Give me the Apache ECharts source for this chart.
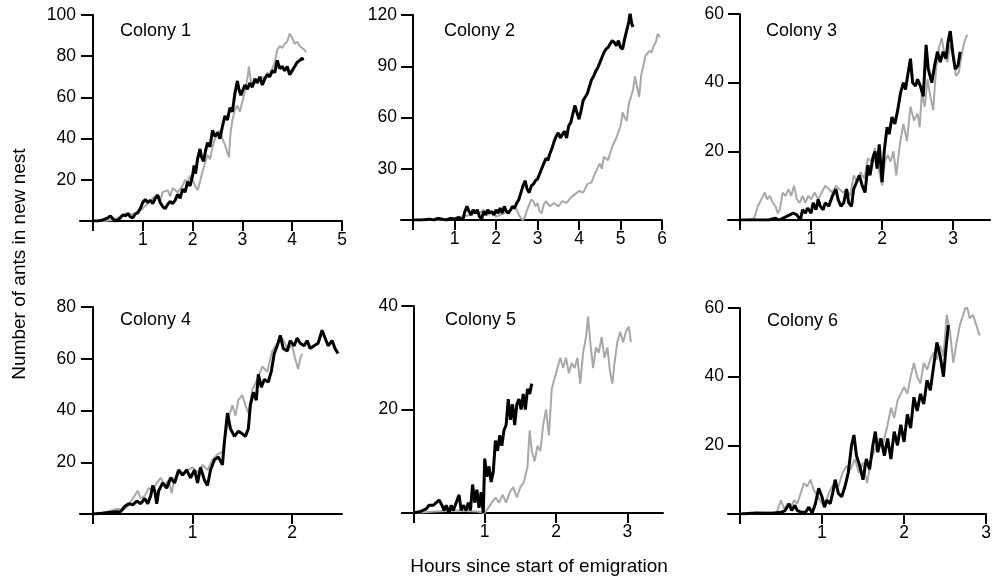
<!DOCTYPE html>
<html><head><meta charset="utf-8">
<script src="https://cdn.jsdelivr.net/npm/echarts@6/dist/echarts.min.js"></script>
<style>html,body{margin:0;padding:0;background:#fff}#c{width:994px;height:578px}</style>
</head><body><div id="c"></div>
<script>
// Colony titles
const colonyNames = ['Colony 1','Colony 2','Colony 3','Colony 4','Colony 5','Colony 6'];
const yAxisTitle = 'Number of ants in new nest';
const xAxisTitle = 'Hours since start of emigration';
// axis ranges / ticks
const yMaxes = [100, 120, 60, 80, 40, 60];
const yIntervals = [20, 30, 20, 20, 20, 20];
const xTicks = [[0,1,2,3,4,5],[0,1,2,3,4,5,6],[0,1,2,3],[0,1,2],[0,1,2,3],[0,1,2,3]];
const xLabels = [[1,2,3,4,5],[1,2,3,4,5,6],[1,2,3],[1,2],[1,2,3],[1,2,3]];

// [hours, ants]
const c1Black = [[0,0],[0.1,0],[0.2,0.5],[0.3,1.5],[0.35,2.5],[0.4,1],[0.45,0],[0.5,0.5],[0.55,1.5],[0.6,3],[0.65,2.5],[0.7,3.5],[0.75,2],[0.8,1.5],[0.85,3.5],[0.9,4],[0.95,6],[1.0,9],[1.05,10.5],[1.1,9],[1.15,10],[1.2,8.5],[1.25,11],[1.3,12.5],[1.35,9],[1.4,7],[1.45,6],[1.5,8],[1.55,9.5],[1.6,8.5],[1.65,10],[1.7,13],[1.75,11],[1.8,15.5],[1.85,14],[1.9,19],[1.95,17],[2.0,22],[2.03,27],[2.06,23],[2.1,30],[2.15,35],[2.18,31],[2.22,29],[2.26,34],[2.3,38],[2.35,36],[2.4,44],[2.45,41],[2.5,43],[2.55,40],[2.6,46],[2.65,51],[2.7,49],[2.75,55],[2.8,53],[2.85,62],[2.9,68],[2.93,64],[2.97,61],[3.0,63],[3.05,66],[3.1,64],[3.15,67],[3.2,65],[3.25,69],[3.3,67],[3.35,70],[3.4,66],[3.45,69],[3.5,71],[3.55,70],[3.6,73],[3.65,72],[3.7,78],[3.75,74],[3.8,75],[3.85,73],[3.9,75],[3.95,71],[4.0,73],[4.05,75],[4.1,77],[4.15,78],[4.2,79],[4.22,78]];
const c1Grey = [[0,0],[0.2,0],[0.4,0.5],[0.5,1.5],[0.6,3],[0.7,4],[0.8,3],[0.9,4.5],[1.0,6],[1.1,8.5],[1.2,11],[1.3,13],[1.35,10],[1.4,14],[1.5,15],[1.55,12],[1.6,16],[1.7,14],[1.8,17],[1.85,20],[1.9,19],[1.95,22],[2.0,20],[2.05,17],[2.1,15],[2.15,19],[2.2,24],[2.25,28],[2.3,32],[2.35,30],[2.4,36],[2.45,40],[2.5,42],[2.55,44],[2.6,40],[2.65,37],[2.7,33],[2.73,31],[2.76,42],[2.8,49],[2.85,54],[2.9,56],[2.95,53],[3.0,58],[3.05,63],[3.1,69],[3.13,75],[3.17,68],[3.2,65],[3.25,67],[3.3,69],[3.35,68],[3.4,70],[3.45,69],[3.5,72],[3.55,71],[3.6,74],[3.65,77],[3.7,83],[3.75,85],[3.8,84],[3.85,86],[3.9,87],[3.95,91],[4.0,89],[4.05,86],[4.1,87],[4.15,85],[4.2,84],[4.25,83],[4.28,82]];
const c2Black = [[0,0],[0.2,0],[0.4,0.5],[0.5,0],[0.6,1],[0.7,0.5],[0.8,0],[0.9,1],[1.0,0.5],[1.1,1.5],[1.2,0],[1.25,5],[1.3,8],[1.35,5],[1.4,3],[1.45,6],[1.5,4],[1.55,6],[1.6,2],[1.65,0],[1.7,5],[1.75,3],[1.8,6],[1.85,4],[1.9,5],[1.95,3],[2.0,6],[2.05,4],[2.1,7],[2.15,4],[2.2,8],[2.25,5],[2.3,4],[2.35,6],[2.4,8],[2.45,7],[2.5,10],[2.55,12],[2.6,16],[2.65,20],[2.7,23],[2.75,18],[2.8,16],[2.85,20],[2.9,21],[2.95,23],[3.0,24],[3.05,27],[3.1,30],[3.15,33],[3.2,36],[3.25,35],[3.3,39],[3.35,42],[3.4,46],[3.45,49],[3.5,51],[3.55,48],[3.6,50],[3.65,52],[3.7,48],[3.75,55],[3.8,57],[3.85,62],[3.9,67],[3.95,63],[4.0,59],[4.05,64],[4.1,70],[4.15,72],[4.2,74],[4.25,78],[4.3,82],[4.35,84],[4.4,87],[4.45,89],[4.5,92],[4.55,95],[4.6,98],[4.65,100],[4.7,101],[4.75,103],[4.8,105],[4.85,104],[4.9,102],[4.95,105],[5.0,101],[5.05,100],[5.1,106],[5.15,111],[5.2,116],[5.23,121],[5.27,115],[5.3,113]];
const c2Grey = [[0,0],[0.4,0],[0.8,0.5],[1.0,1],[1.2,2],[1.4,3],[1.5,5],[1.6,4],[1.7,6],[1.8,3],[1.9,5],[2.0,2],[2.1,3],[2.2,4],[2.3,5],[2.4,7],[2.5,6],[2.55,3],[2.6,1],[2.65,0],[2.7,2],[2.75,6],[2.8,9],[2.85,12],[2.9,11],[2.95,8],[3.0,10],[3.05,5],[3.1,4],[3.15,9],[3.2,11],[3.3,8],[3.4,10],[3.5,8],[3.6,11],[3.7,10],[3.8,13],[3.9,15],[4.0,17],[4.1,16],[4.2,21],[4.3,22],[4.4,28],[4.5,33],[4.55,30],[4.6,37],[4.7,35],[4.8,43],[4.9,48],[5.0,55],[5.05,63],[5.1,60],[5.15,58],[5.2,68],[5.3,76],[5.35,84],[5.4,78],[5.45,72],[5.5,85],[5.55,90],[5.6,96],[5.7,99],[5.75,98],[5.8,102],[5.85,104],[5.9,109],[5.95,107]];
const c3Black = [[0,0],[0.2,0],[0.4,0],[0.5,0.5],[0.55,0],[0.6,0.5],[0.65,1],[0.7,1.5],[0.75,2],[0.8,1.5],[0.85,0],[0.88,3],[0.92,2],[0.95,3.5],[1.0,2],[1.03,5],[1.07,3],[1.1,6],[1.13,4],[1.17,3],[1.2,5],[1.25,4],[1.3,7],[1.35,9],[1.38,6],[1.42,4],[1.46,5],[1.5,9],[1.53,5],[1.57,4],[1.6,9],[1.64,11],[1.68,13],[1.72,10],[1.76,8],[1.8,16],[1.83,13],[1.87,18],[1.9,20],[1.93,15],[1.96,22],[2.0,11],[2.03,20],[2.07,27],[2.1,25],[2.14,30],[2.18,28],[2.22,32],[2.26,37],[2.3,40],[2.33,38],[2.36,42],[2.4,47],[2.43,40],[2.47,39],[2.5,41],[2.54,39],[2.58,36],[2.62,51],[2.65,44],[2.7,40],[2.74,45],[2.78,49],[2.82,46],[2.86,49],[2.9,47],[2.93,52],[2.96,55],[3.0,48],[3.03,44],[3.07,45],[3.1,49]];
const c3Grey = [[0,0],[0.1,0],[0.2,0.5],[0.25,4],[0.3,6],[0.35,8],[0.38,6],[0.42,7],[0.46,5],[0.5,4],[0.53,2],[0.56,3],[0.6,8],[0.64,7],[0.68,9],[0.72,7],[0.76,10],[0.8,6],[0.84,5],[0.88,7],[0.92,5],[0.96,7],[1.0,6],[1.05,8],[1.1,6],[1.15,8],[1.2,10],[1.25,9],[1.3,8],[1.35,10],[1.4,9],[1.45,8],[1.5,9],[1.55,7],[1.6,13],[1.65,11],[1.7,14],[1.75,12],[1.8,18],[1.85,17],[1.9,21],[1.95,15],[2.0,10],[2.04,17],[2.08,19],[2.12,17],[2.16,20],[2.2,13],[2.25,22],[2.3,28],[2.35,23],[2.4,33],[2.45,29],[2.5,31],[2.53,27],[2.56,37],[2.6,33],[2.64,41],[2.68,36],[2.72,32],[2.76,44],[2.8,50],[2.84,53],[2.88,48],[2.92,46],[2.96,51],[3.0,48],[3.04,42],[3.08,43],[3.12,48],[3.16,52],[3.2,54]];
const c4Black = [[0,0],[0.1,0.3],[0.2,0.8],[0.28,1],[0.32,3],[0.36,4],[0.4,3.5],[0.44,5],[0.48,4],[0.52,6],[0.55,4],[0.58,7],[0.6,11],[0.62,9],[0.64,4],[0.66,9],[0.7,12],[0.74,10],[0.78,14],[0.82,12],[0.86,17],[0.9,15],[0.94,17],[0.98,14],[1.02,17],[1.05,12],[1.08,18],[1.12,13],[1.15,11],[1.18,17],[1.22,21],[1.26,22],[1.3,19],[1.32,28],[1.35,39],[1.38,33],[1.42,30],[1.46,32],[1.5,31],[1.53,30],[1.56,33],[1.58,42],[1.61,47],[1.64,44],[1.66,54],[1.69,49],[1.72,52],[1.76,51],[1.79,55],[1.82,62],[1.85,65],[1.88,69],[1.91,64],[1.95,63],[1.98,67],[2.02,65],[2.05,68],[2.08,66],[2.12,65],[2.15,67],[2.18,64],[2.22,65],[2.26,66],[2.3,71],[2.33,68],[2.36,65],[2.4,67],[2.43,64],[2.46,62]];
const c4Grey = [[0,0],[0.15,1],[0.25,2],[0.3,1.5],[0.35,3],[0.4,6],[0.45,9],[0.48,6],[0.52,7],[0.56,10],[0.6,9],[0.64,12],[0.68,14],[0.72,11],[0.76,13],[0.79,8],[0.82,14],[0.86,16],[0.9,15],[0.95,17],[1.0,18],[1.05,16],[1.1,19],[1.15,17],[1.2,21],[1.25,23],[1.3,24],[1.33,30],[1.36,37],[1.4,42],[1.43,38],[1.46,44],[1.5,46],[1.53,42],[1.56,39],[1.6,48],[1.65,52],[1.7,57],[1.75,55],[1.8,63],[1.85,66],[1.9,68],[1.95,64],[2.0,65],[2.03,60],[2.06,56],[2.08,60],[2.1,62]];
const c5Black = [[0,0],[0.1,0.3],[0.18,0.8],[0.22,1.5],[0.28,1.5],[0.32,2],[0.36,2.5],[0.4,1.5],[0.43,0.5],[0.46,1.5],[0.5,0],[0.53,1.5],[0.56,0.5],[0.6,2],[0.64,3.5],[0.67,0.5],[0.7,1.5],[0.74,0.5],[0.77,2],[0.8,0.5],[0.83,5.5],[0.86,2],[0.89,4.5],[0.92,1],[0.95,4],[0.98,0],[1.0,10.5],[1.03,7],[1.06,9],[1.09,6],[1.12,8],[1.15,14],[1.18,12],[1.21,15],[1.24,13],[1.27,16],[1.3,17],[1.33,22],[1.36,18],[1.39,21],[1.42,17],[1.45,21],[1.48,22],[1.51,20],[1.54,23],[1.57,20],[1.6,24],[1.63,23],[1.66,25]];
const c5Grey = [[0,0],[0.3,0.3],[0.6,0.5],[0.9,0.3],[1.0,0],[1.05,1],[1.1,2],[1.15,3],[1.2,2],[1.25,3.5],[1.3,2],[1.35,4],[1.4,5],[1.45,3],[1.5,5],[1.55,6],[1.6,9],[1.63,16],[1.66,12],[1.7,10],[1.74,13],[1.78,12],[1.82,17],[1.86,20],[1.9,15],[1.94,24],[1.98,26],[2.02,28],[2.06,30],[2.1,28],[2.14,30],[2.18,27],[2.22,29],[2.26,28],[2.3,30],[2.34,25],[2.38,31],[2.42,34],[2.45,38],[2.48,33],[2.52,28],[2.56,32],[2.6,31],[2.64,34],[2.68,30],[2.72,32],[2.76,27],[2.79,25],[2.82,29],[2.86,33],[2.9,35],[2.94,33],[2.98,35],[3.02,36],[3.05,33]];
const c6Black = [[0,0],[0.2,0.3],[0.4,0.2],[0.5,0.5],[0.55,1],[0.6,3],[0.63,1],[0.67,2.5],[0.7,1],[0.75,0.5],[0.8,0.5],[0.84,2],[0.88,0.3],[0.92,3],[0.96,7.5],[1.0,5],[1.03,2],[1.06,4],[1.1,3],[1.13,6],[1.16,10],[1.2,6],[1.24,5],[1.28,8],[1.32,12],[1.36,20],[1.39,23],[1.42,17],[1.46,14],[1.5,10],[1.54,16],[1.58,13],[1.62,20],[1.65,24],[1.68,18],[1.72,22],[1.76,17],[1.8,22],[1.84,16],[1.88,24],[1.92,20],[1.96,26],[2.0,21],[2.04,29],[2.08,25],[2.12,34],[2.16,30],[2.2,35],[2.24,32],[2.28,39],[2.32,36],[2.36,43],[2.4,50],[2.44,46],[2.48,40],[2.51,48],[2.54,55]];
const c6Grey = [[0,0],[0.3,0.3],[0.45,0.5],[0.5,4],[0.54,1.5],[0.58,3],[0.62,2],[0.66,4],[0.7,3],[0.74,6],[0.78,9],[0.82,8],[0.86,10],[0.9,7],[0.95,5],[1.0,3],[1.05,4],[1.1,7],[1.15,9],[1.2,8],[1.25,12],[1.3,14],[1.35,13],[1.4,16],[1.45,12],[1.5,15],[1.55,9],[1.6,16],[1.65,19],[1.7,22],[1.75,21],[1.8,26],[1.84,31],[1.88,28],[1.92,33],[1.96,35],[2.0,37],[2.04,35],[2.08,40],[2.12,44],[2.16,40],[2.2,38],[2.24,44],[2.28,42],[2.32,45],[2.36,47],[2.4,45],[2.44,49],[2.48,46],[2.52,58],[2.56,53],[2.6,44],[2.64,50],[2.68,55],[2.72,58],[2.76,61],[2.8,57],[2.84,58],[2.88,55],[2.92,52]];

const blacks = [c1Black,c2Black,c3Black,c4Black,c5Black,c6Black];
const greys = [c1Grey,c2Grey,c3Grey,c4Grey,c5Grey,c6Grey];

// layout (pixels) and x extents
const layout = [
  {left:80, width:262, top:15, height:206, xmin:-0.26, xmax:5},
  {left:401, width:261, top:15, height:205, xmin:-0.29, xmax:6},
  {left:728, width:262, top:14, height:206, xmin:-0.17, xmax:3.52},
  {left:80, width:262, top:307, height:207, xmin:-0.13, xmax:2.5},
  {left:402, width:261, top:306, height:207, xmin:-0.16, xmax:3.5},
  {left:728, width:261, top:308, height:206, xmin:-0.145, xmax:3}
];
const titlePos = [[120,33],[444,33],[766,33],[120,322],[445,322],[767,323]];

const FONT = '"Liberation Sans", Arial, Helvetica, sans-serif';
const grids = [], xAxes = [], yAxes = [], series = [], graphics = [];
layout.forEach((L, i) => {
  grids.push({left:L.left, top:L.top, width:L.width, height:L.height, containLabel:false});
  xAxes.push({
    type:'value', gridIndex:i, min:L.xmin, max:L.xmax,
    axisLine:{show:true, onZero:true, lineStyle:{color:'#000', width:2}},
    axisTick:{show:true, length:10, customValues:xTicks[i], lineStyle:{color:'#000', width:2}},
    axisLabel:{show:true, customValues:xLabels[i], margin:10, color:'#000', fontSize:17.5, fontFamily:FONT},
    splitLine:{show:false}
  });
  yAxes.push({
    type:'value', gridIndex:i, min:0, max:yMaxes[i], interval:yIntervals[i],
    axisLine:{show:true, onZero:true, lineStyle:{color:'#000', width:2}},
    axisTick:{show:true, length:12, lineStyle:{color:'#000', width:2}},
    axisLabel:{show:true, margin:4, color:'#000', fontSize:17.5, fontFamily:FONT,
      formatter: v => v === 0 ? '' : String(v)},
    splitLine:{show:false}
  });
  series.push({type:'line', xAxisIndex:i, yAxisIndex:i, data:greys[i], showSymbol:false, symbol:'none',
    lineStyle:{color:'#a8a8a8', width:2}, z:2, silent:true, animation:false});
  series.push({type:'line', xAxisIndex:i, yAxisIndex:i, data:blacks[i], showSymbol:false, symbol:'none',
    lineStyle:{color:'#000', width:3}, z:3, silent:true, animation:false});
  graphics.push({type:'text', left:titlePos[i][0], top:titlePos[i][1]-11,
    style:{text:colonyNames[i], font:'18px ' + FONT, fill:'#000'}});
});
graphics.push({type:'text', x:20, y:264, rotation:Math.PI/2,
  style:{text:yAxisTitle, font:'19px ' + FONT, fill:'#000', align:'center', verticalAlign:'middle'}});
graphics.push({type:'text', x:539, y:567,
  style:{text:xAxisTitle, font:'19px ' + FONT, fill:'#000', align:'center', verticalAlign:'middle'}});

const chart = echarts.init(document.getElementById('c'), null, {renderer:'canvas'});
chart.setOption({
  animation:false, backgroundColor:'#fff',
  grid:grids, xAxis:xAxes, yAxis:yAxes, series:series, graphic:graphics
});
</script></body></html>
